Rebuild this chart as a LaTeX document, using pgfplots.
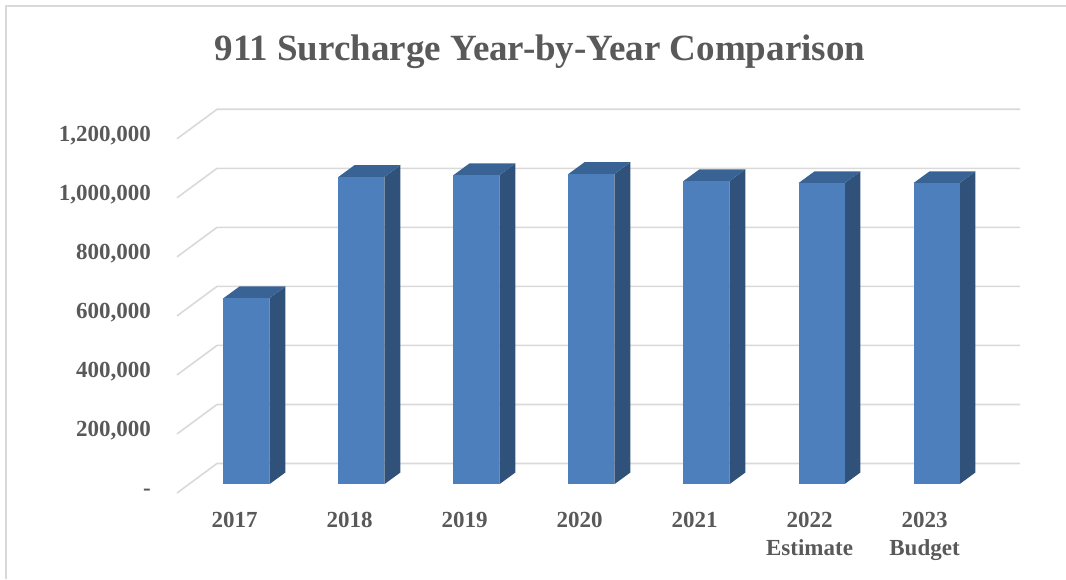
\documentclass[border=0pt]{standalone}
\usepackage{pgfplots}
\usepackage{pgfplotstable}
\usepackage{fontspec}
\setmainfont{Liberation Serif}
\pgfplotsset{compat=1.18}

\definecolor{barfront}{HTML}{4E7FBD}
\definecolor{bartop}{HTML}{3A6395}
\definecolor{barside}{HTML}{30517A}
\definecolor{gridcol}{HTML}{D9D9D9}
\definecolor{txt}{HTML}{595959}

% 911 surcharge per year
\pgfplotstableread{
idx value
0   630000
1   1041000
2   1047000
3   1051000
4   1027000
5   1020000
6   1020000
}\surcharge

\begin{document}
\begin{tikzpicture}
\begin{axis}[
  scale only axis,
  width=843pt, height=383.7pt,
  xmin=-0.5, xmax=6.83,
  ymin=0, ymax=1300000,
  clip=false,
  scaled y ticks=false,
  axis line style={draw=none},
  major tick length=0pt,
  tick style={draw=none},
  xtick={0,...,6},
  xticklabels={{2017},{2018},{2019},{2020},{2021},{2022\\Estimate},{2023\\Budget}},
  xticklabel style={align=center, anchor=north, inner sep=0pt, yshift=-19pt},
  ytick={0,200000,400000,600000,800000,1000000,1200000},
  yticklabels={-,{200,000},{400,000},{600,000},{800,000},{1,000,000},{1,200,000}},
  yticklabel style={anchor=east, inner sep=0pt, xshift=-26pt,
    text height=0.68em, text depth=0.2em},
  tick label style={font=\fontsize{23}{28}\selectfont\bfseries, text=txt},
  every axis title shift=0pt,
  title={911 Surcharge Year-by-Year Comparison},
  title style={at={(0.4306,1.1259)}, anchor=base, inner sep=0pt,
    font=\fontsize{37}{40}\selectfont\bfseries, text=txt},
]
\coordinate (O) at (rel axis cs:0,0);

% walls: side-wall diagonal + back-wall line per gridline
\pgfplotsinvokeforeach{0,200000,400000,600000,800000,1000000,1200000}{
  \edef\gridcmd{\noexpand\addplot[gridcol, line width=1.6pt, mark=none]
    coordinates {(-0.5,#1) (-0.152,\fpeval{#1+100000}) (6.83,\fpeval{#1+100000})};}
  \gridcmd
}

% 3-D bars: side, top, front
\pgfplotsinvokeforeach{0,...,6}{
  \pgfplotstablegetelem{#1}{value}\of\surcharge
  \let\v\pgfplotsretval
  \edef\barcmd{%
    \noexpand\addplot[fill=barside, draw=none, mark=none] coordinates
      {(\fpeval{#1+0.304},30000) (\fpeval{#1+0.443},69700)
       (\fpeval{#1+0.443},\fpeval{\v+69700}) (\fpeval{#1+0.304},\fpeval{\v+30000})} --cycle;
    \noexpand\addplot[fill=bartop, draw=none, mark=none] coordinates
      {(\fpeval{#1-0.096},\fpeval{\v+30000}) (\fpeval{#1+0.304},\fpeval{\v+30000})
       (\fpeval{#1+0.443},\fpeval{\v+69700}) (\fpeval{#1+0.043},\fpeval{\v+69700})} --cycle;
    \noexpand\addplot[fill=barfront, draw=none, mark=none] coordinates
      {(\fpeval{#1-0.096},30000) (\fpeval{#1+0.304},30000)
       (\fpeval{#1+0.304},\fpeval{\v+30000}) (\fpeval{#1-0.096},\fpeval{\v+30000})} --cycle;
  }\barcmd
}
\end{axis}
\pgfresetboundingbox
\path[use as bounding box] ([shift={(-177pt,-86pt)}]O) rectangle ([shift={(889pt,493pt)}]O);
\draw[gridcol, line width=2pt] ([shift={(-171pt,-86pt)}]O) -- ([shift={(-171pt,487pt)}]O) -- ([shift={(889pt,487pt)}]O);
\end{tikzpicture}
\end{document}
